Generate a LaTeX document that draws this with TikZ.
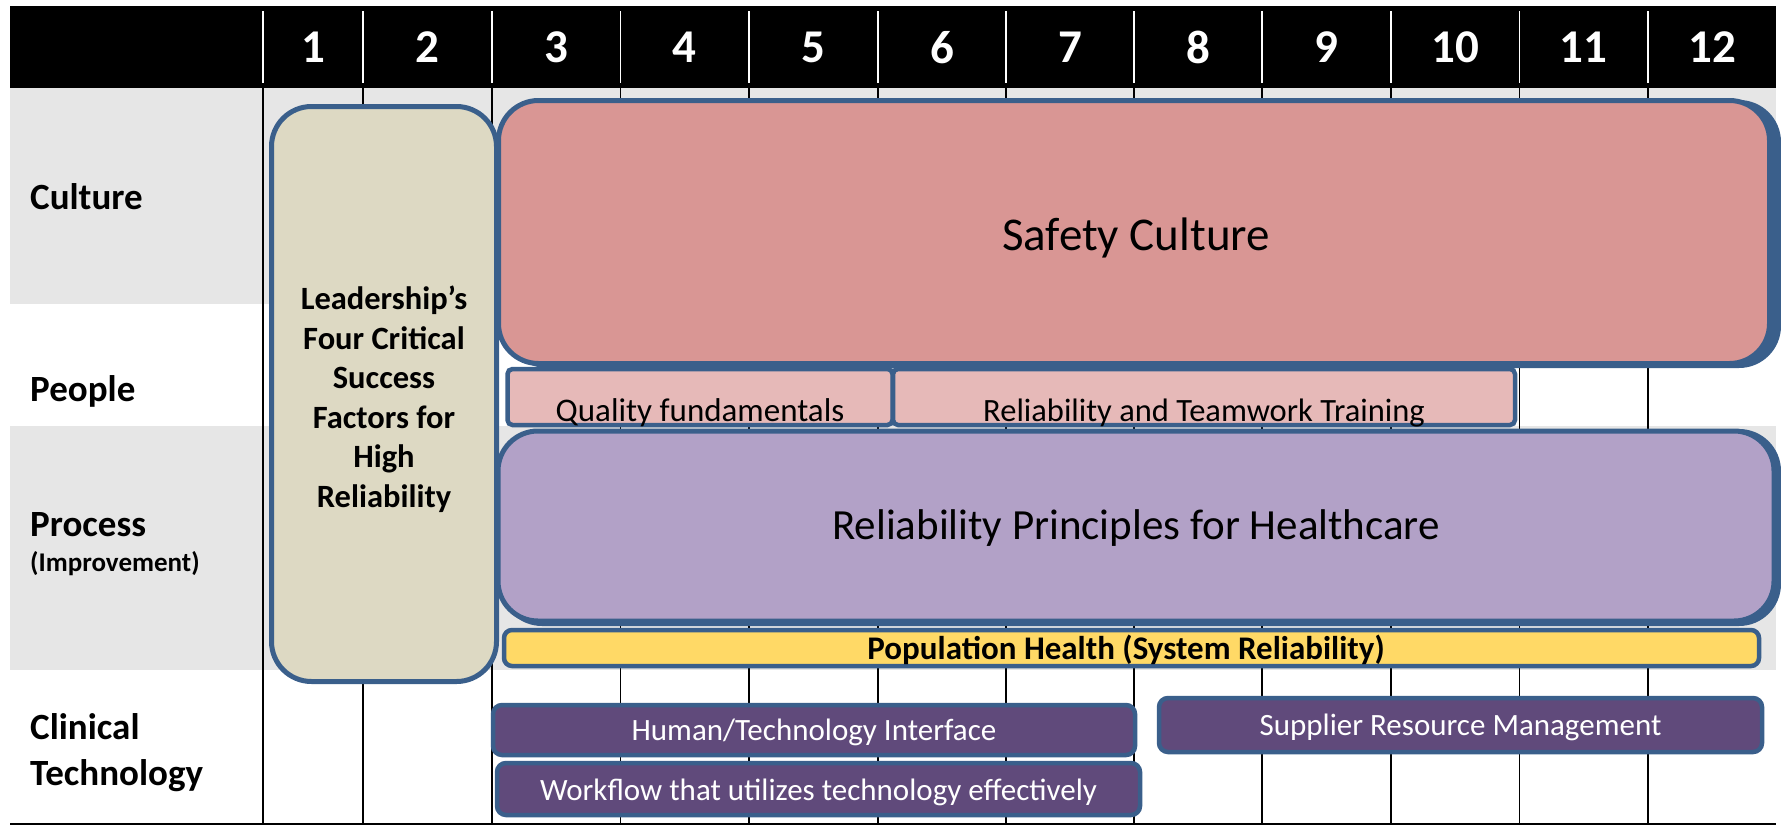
\documentclass[tikz,border=0pt]{standalone}
\usepackage{fontspec}
\setmainfont{Carlito}
\definecolor{bandgray}{HTML}{E6E6E6}
\definecolor{bord}{HTML}{3A5F8B}
\definecolor{beige}{HTML}{DDD9C3}
\definecolor{safety}{HTML}{D99694}
\definecolor{quality}{HTML}{E6B9B8}
\definecolor{relprin}{HTML}{B2A1C7}
\definecolor{popyel}{HTML}{FFD966}
\definecolor{techpurp}{HTML}{604A7B}
\tikzset{
  bigbox/.style={draw=bord, line width=5pt, rounded corners=40pt, inner sep=0pt},
  smallbox/.style={draw=bord, line width=4.5pt, rounded corners=9pt, inner sep=0pt},
  hdrnum/.style={text=white, font=\fontsize{47}{50}\selectfont\bfseries, inner sep=0pt},
  rowlab/.style={font=\fontsize{37}{40}\selectfont\bfseries, inner sep=0pt, anchor=base west},
  collineW/.style={white, line width=1.3pt},
  collineB/.style={black, line width=1.5pt},
  techtext/.style={text=white, font=\fontsize{31}{34}\selectfont},
}
\begin{document}
\begin{tikzpicture}[x=1pt,y=-1pt]
\useasboundingbox (0,0) rectangle (1781,825);
% bands
\fill[bandgray] (10,88) rectangle (1776,304);
\fill[bandgray] (10,426) rectangle (1776,670);
\fill[black] (10,6) rectangle (1776,88);
% column lines
\foreach \x in {263,363,492,620.5,749,878,1006,1134,1262,1391,1519.5,1648}{
  \draw[collineW] (\x,11) -- (\x,83);
  \draw[collineB] (\x,88) -- (\x,824);
}
\draw[collineB] (10,824) -- (1776,824);
% header numbers
\foreach \n/\x in {1/313,2/427.5,3/556,4/684.5,5/813.5,6/942,7/1070,8/1198,9/1326.5,10/1455,11/1583.5,12/1712}{
  \node[hdrnum] (h\n) at (\x,47.5) {\n};
}
% row labels
\node[rowlab] (lcult) at (30,209) {Culture};
\node[rowlab] (lpeop) at (30,401) {People};
\node[rowlab] (lproc) at (30,536) {Process};
\node[rowlab, font=\fontsize{27}{30}\selectfont\bfseries] (limpr) at (30,571) {(Improvement)};
\node[rowlab] (lclin) at (30,739) {Clinical};
\node[rowlab] (ltech) at (30,785) {Technology};
% Leadership box
\node[bigbox, fill=beige, minimum width=225pt, minimum height=575pt] (lead) at (384,394) {};
\node[align=center, inner sep=0pt, font=\fontsize{32.5}{39.5}\selectfont\bfseries] (leadt) at (384,399)
  {Leadership’s\\Four Critical\\Success\\Factors for\\High\\Reliability};
% Safety culture (with shadow copy)
\fill[bord, rounded corners=42pt] (505,100) rectangle (1781,368);
\node[bigbox, fill=safety, minimum width=1271pt, minimum height=263pt] (safe) at (1134,232) {};
\node[inner sep=0pt, font=\fontsize{47}{50}\selectfont] (safet) at (1136,238) {Safety Culture};
% People row boxes
\node[smallbox, fill=quality, minimum width=385pt, minimum height=56pt, rounded corners=5pt] (qual) at (700,397) {};
\node[font=\fontsize{33}{36}\selectfont, inner sep=0pt] (qualt) at (700,413) {Quality fundamentals};
\node[smallbox, fill=quality, minimum width=622pt, minimum height=56pt, rounded corners=5pt] (rtt) at (1204,397) {};
\node[font=\fontsize{32.5}{36}\selectfont, inner sep=0pt] (rttt) at (1204,413) {Reliability and Teamwork Training};
% Reliability principles
\fill[bord, rounded corners=42pt] (500,429) rectangle (1781,626);
\node[bigbox, fill=relprin, minimum width=1276pt, minimum height=190pt] (relp) at (1136,526) {};
\node[inner sep=0pt, font=\fontsize{43}{46}\selectfont] (relpt) at (1136,528) {Reliability Principles for Healthcare};
% Population health bar
\node[smallbox, fill=popyel, minimum width=1255pt, minimum height=36pt, rounded corners=8pt] (pop) at (1131.5,648) {};
\node[inner sep=0pt, font=\fontsize{33}{36}\selectfont\bfseries] (popt) at (1126,650) {Population Health (System Reliability)};
% Clinical technology boxes
\node[smallbox, fill=techpurp, minimum width=642pt, minimum height=50pt] (hti) at (814,730) {};
\node[techtext, inner sep=0pt] (htit) at (814,732) {Human/Technology Interface};
\node[smallbox, fill=techpurp, minimum width=643pt, minimum height=52pt] (wf) at (818.5,789) {};
\node[techtext, inner sep=0pt] (wft) at (818.5,792) {Workflow that utilizes technology effectively};
\node[smallbox, fill=techpurp, minimum width=603pt, minimum height=54pt] (srm) at (1460.5,725) {};
\node[techtext, inner sep=0pt] (srmt) at (1460.5,727) {Supplier Resource Management};
\end{tikzpicture}
\end{document}
